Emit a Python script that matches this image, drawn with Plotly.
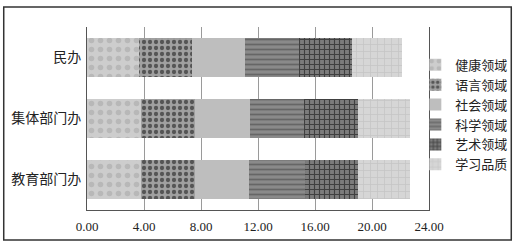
import plotly.graph_objects as go

categories = ["民办", "集体部门办", "教育部门办"]
series_names = ["健康领域", "语言领域", "社会领域", "科学领域", "艺术领域", "学习品质"]
health = [3.66, 3.78, 3.80]
language = [3.71, 3.78, 3.76]
social = [3.72, 3.88, 3.83]
science = [3.77, 3.79, 3.89]
art = [3.71, 3.76, 3.71]
learning = [3.56, 3.67, 3.71]
series_values = [health, language, social, science, art, learning]
tick_values = [0, 4, 8, 12, 16, 20, 24]
tick_labels = ["0.00", "4.00", "8.00", "12.00", "16.00", "20.00", "24.00"]

styles = [
    dict(bg="#cdcdcd", fg="#b8b8b8", shape=".", size=9, solidity=0.3),
    dict(bg="#a0a0a0", fg="#555555", shape=".", size=6, solidity=0.4),
    dict(bg="#bebebe", fg="#b2b2b2", shape="", size=8, solidity=0.2),
    dict(bg="#8a8a8a", fg="#666666", shape="-", size=5, solidity=0.35),
    dict(bg="#7c7c7c", fg="#404040", shape="+", size=5, solidity=0.4),
    dict(bg="#d6d6d6", fg="#c4c4c4", shape="+", size=7, solidity=0.2),
]

fig = go.Figure()
for name, vals, st in zip(series_names, series_values, styles):
    fig.add_trace(go.Bar(
        y=categories, x=vals, name=name, orientation="h",
        legendgroup=name,
        marker=dict(
            color=st["bg"],
            line=dict(width=0),
            pattern=dict(shape=st["shape"], fgcolor=st["fg"], bgcolor=st["bg"],
                         size=st["size"], solidity=st["solidity"], fillmode="replace"),
        ),
    ))

serif = "Liberation Serif, Noto Sans CJK SC, serif"
fig.update_layout(
    width=525, height=247,
    margin=dict(l=87, r=93, t=27, b=37),
    barmode="stack", bargap=0.36,
    paper_bgcolor="white", plot_bgcolor="white",
    font=dict(family=serif, size=13, color="#222222"),
    showlegend=True,
    legend=dict(x=0.96, xanchor="left", y=0.52, yanchor="middle",
                traceorder="normal", tracegroupgap=9,
                font=dict(size=13, color="#222222"), bgcolor="rgba(0,0,0,0)"),
    xaxis=dict(range=[0, 24], tickvals=tick_values, ticktext=tick_labels,
               showgrid=True, gridcolor="#9a9a9a", gridwidth=1,
               showline=True, linecolor="#555555", linewidth=1,
               ticks="outside", ticklen=4, tickcolor="rgba(0,0,0,0)",
               zeroline=False, tickfont=dict(size=13)),
    yaxis=dict(autorange="reversed", showline=True, mirror=True,
               linecolor="#555555", linewidth=1, showgrid=False,
               ticks="outside", ticklen=2, tickcolor="rgba(0,0,0,0)",
               tickfont=dict(size=14)),
    shapes=[dict(type="rect", xref="paper", yref="paper",
                 x0=(3 - 87) / 345, x1=(515 - 87) / 345,
                 y0=(210 - 240) / 183, y1=(210 - 7) / 183,
                 line=dict(color="#333333", width=1.5), fillcolor="rgba(0,0,0,0)")],
)

fig.write_html("out.html")
